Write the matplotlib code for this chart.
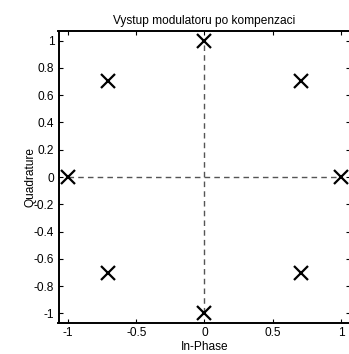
import numpy as np
import matplotlib
matplotlib.use("Agg")
import matplotlib.pyplot as plt

plt.rcParams['font.family'] = ['Liberation Sans', 'DejaVu Sans']

# 8-PSK constellation after compensation
in_phase = [1.0, 0.7071, 0.0, -0.7071, -1.0, -0.7071, 0.0, 0.7071]
quadrature = [0.0, 0.7071, 1.0, 0.7071, 0.0, -0.7071, -1.0, -0.7071]

x_ticks = [-1, -0.5, 0, 0.5, 1]
x_tick_labels = ['-1', '-0.5', '0', '0.5', '1']
y_ticks = [-1, -0.8, -0.6, -0.4, -0.2, 0, 0.2, 0.4, 0.6, 0.8, 1]
y_tick_labels = ['-1', '-0.8', '-0.6', '-0.4', '-0.2', '0', '0.2', '0.4', '0.6', '0.8', '1']

W, H = 349, 354
fs = 8.6
fig = plt.figure(figsize=(W / 100, H / 100), dpi=100)
ax = fig.add_axes([58.5 / W, (H - 323) / H, 292 / W, 292 / H])

# reference axes through the origin
ax.plot([-1, 1], [0, 0], linestyle=(0, (4, 3)), color='#555555', linewidth=1.0, zorder=1)
ax.plot([0, 0], [-1, 1], linestyle=(0, (4, 3)), color='#555555', linewidth=1.0, zorder=1)

ax.plot(in_phase, quadrature, linestyle='none', marker='x', markersize=10,
        markeredgewidth=1.6, color='black', zorder=3)

ax.set_xlim(-1.07, 1.07)
ax.set_ylim(-1.07, 1.07)
ax.set_xticks(x_ticks)
ax.set_xticklabels(x_tick_labels)
ax.set_yticks(y_ticks)
ax.set_yticklabels(y_tick_labels)
ax.tick_params(direction='in', length=3, width=0.8, labelsize=fs,
               top=True, right=True, pad=3)
for s in ax.spines.values():
    s.set_linewidth(1.4)

ax.set_title('Vystup modulatoru po kompenzaci', fontsize=fs, pad=5)
ax.set_xlabel('In-Phase', fontsize=fs, labelpad=1)
ax.set_ylabel('Quadrature', fontsize=fs, labelpad=-1.5)

fig.savefig('out.png', dpi=100)
